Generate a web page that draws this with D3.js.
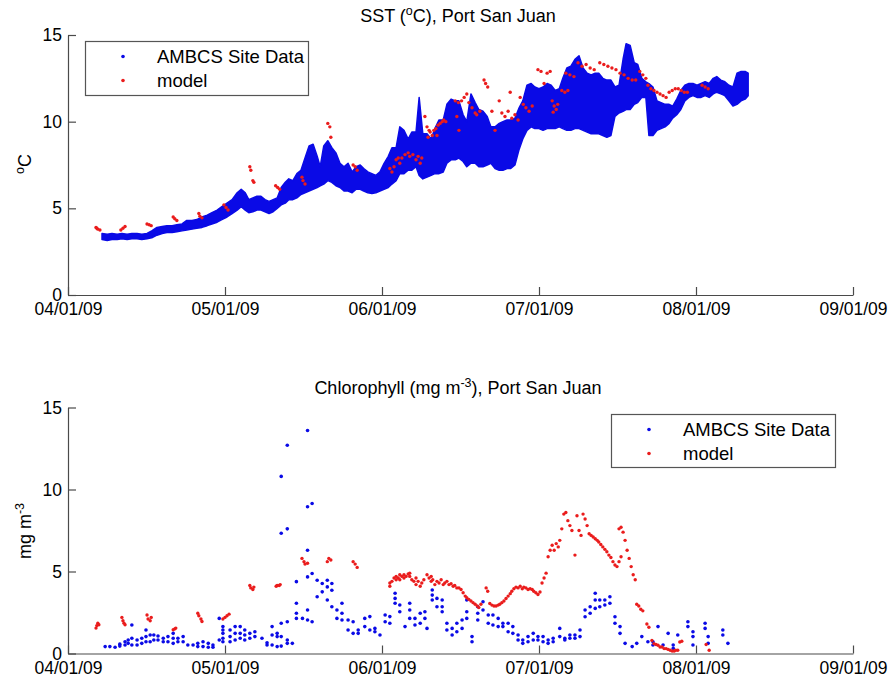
<!DOCTYPE html>
<html>
<head>
<meta charset="utf-8">
<script src="https://cdn.jsdelivr.net/npm/d3@7"></script>
<style>
  body { margin: 0; background: #fff; }
  svg text { font-family: "Liberation Sans", Arial, Helvetica, sans-serif; fill: #000; }
</style>
</head>
<body>
<svg id="fig" width="888" height="681"></svg>
<script>
// ---- axis ticks ----
const monthTicks = ["04/01/09", "05/01/09", "06/01/09", "07/01/09", "08/01/09", "09/01/09"];
const yTicks = [0, 5, 10, 15];
const seriesNames = ["AMBCS Site Data", "model"];

// ---- SST, site data: envelope of the dense record (days since 04/01/09, degC) ----
const sstObsDay = [
  6.5, 7.5, 8.4, 9.4, 10.3, 11.3, 12.2, 13.2, 14.1, 15.1,
  16.0, 17.0, 18.0, 18.9, 19.9, 20.8, 21.8, 22.7, 23.7, 24.6,
  25.6, 26.6, 27.5, 28.5, 29.4, 30.4, 31.4, 32.4, 33.2, 34.0,
  34.7, 35.5, 36.3, 37.1, 37.9, 38.7, 39.5, 40.3, 41.1, 41.9,
  42.6, 43.4, 44.2, 45.0, 45.8, 46.6, 47.4, 48.2, 48.8, 49.5,
  50.3, 51.1, 51.9, 52.7, 53.5, 54.3, 55.1, 55.9, 56.7, 57.4,
  58.2, 59.0, 59.8, 60.6, 61.4, 62.2, 62.9, 63.7, 64.4, 65.2,
  66.0, 66.7, 67.5, 68.1, 68.8, 69.6, 70.4, 71.1, 71.9, 72.7,
  73.4, 74.2, 75.0, 75.7, 76.5, 77.2, 78.0, 78.8, 79.5, 80.3,
  81.1, 81.8, 82.6, 83.4, 84.1, 84.9, 85.6, 86.4, 87.2, 87.9,
  88.7, 89.5, 90.2, 91.0, 91.8, 92.6, 93.4, 94.2, 95.0, 95.7,
  96.5, 97.3, 98.1, 98.9, 99.7, 100.5, 101.3, 102.1, 102.8, 103.6,
  104.4, 105.2, 106.0, 106.8, 107.6, 108.2, 109.0, 109.8, 110.5, 111.3,
  112.1, 112.7, 113.5, 114.3, 115.1, 115.9, 116.7, 117.4, 118.2, 119.0,
  119.8, 120.6, 121.4, 122.2, 123.0, 123.8, 124.6, 125.4, 126.1, 126.9,
  127.7, 128.5, 129.3, 130.1, 130.9, 131.7, 132.3
];
const sstObsHi = [
  3.55, 3.5, 3.55, 3.5, 3.55, 3.5, 3.55, 3.55, 3.5, 3.55,
  3.7, 3.9, 3.95, 4.0, 4.0, 4.05, 4.1, 4.3, 4.3, 4.35,
  4.5, 4.6, 4.75, 4.9, 5.1, 5.3, 5.5, 5.9, 6.1, 5.9,
  5.5, 5.6, 5.7, 5.7, 5.5, 5.4, 5.5, 5.6, 6.2, 6.5,
  6.7, 6.6, 7.0, 7.2, 7.9, 8.6, 8.7, 8.0, 7.4, 8.6,
  8.9, 8.5, 8.2, 7.6, 7.4, 7.6, 7.1, 7.4, 7.5, 7.3,
  7.1, 7.0, 6.9, 7.1, 7.6, 8.0, 8.5, 8.5, 9.7, 9.5,
  9.0, 9.4, 9.4, 11.4, 9.3, 9.3, 9.0, 9.6, 10.1, 10.1,
  11.0, 11.3, 11.2, 11.2, 10.4, 10.0, 11.6, 11.1, 10.7, 10.6,
  10.3, 9.7, 9.7, 9.9, 10.0, 10.1, 10.1, 10.2, 10.8, 11.2,
  12.1, 12.2, 12.0, 11.9, 12.0, 12.2, 12.1, 11.8, 11.9, 12.5,
  13.1, 13.2, 13.6, 13.8, 13.1, 12.8, 12.7, 12.8, 12.8, 12.5,
  12.4, 12.4, 12.0, 12.1, 13.6, 14.5, 14.4, 13.4, 13.3, 12.5,
  12.3, 12.2, 12.0, 11.2, 11.1, 11.0, 11.0, 10.9, 11.3, 11.8,
  12.1, 12.2, 12.2, 12.1, 12.2, 12.3, 12.2, 12.5, 12.6, 12.4,
  12.3, 12.1, 12.0, 12.8, 12.9, 12.9, 12.8
];
const sstObsLo = [
  3.2, 3.15, 3.2, 3.2, 3.25, 3.2, 3.25, 3.25, 3.2, 3.25,
  3.3, 3.45, 3.55, 3.6, 3.6, 3.65, 3.7, 3.75, 3.8, 3.85,
  3.9, 4.0, 4.1, 4.2, 4.35, 4.5, 4.7, 4.9, 5.1, 4.9,
  4.75, 4.8, 4.9, 4.9, 4.8, 4.7, 4.8, 5.0, 5.2, 5.3,
  5.5, 5.5, 5.6, 5.8, 5.9, 6.0, 6.1, 6.2, 6.3, 6.4,
  6.6, 6.5, 6.3, 6.2, 6.0, 6.0, 5.9, 6.1, 6.1, 6.0,
  5.9, 5.85, 5.9, 6.0, 6.1, 6.2, 6.4, 6.6, 7.0, 7.0,
  7.2, 7.2, 7.4, 6.9, 6.7, 6.8, 6.9, 7.0, 7.0, 7.1,
  7.6, 7.8, 7.8, 7.9, 7.7, 7.4, 7.6, 7.6, 7.4, 7.4,
  7.5, 7.6, 7.3, 7.2, 7.2, 7.3, 7.3, 7.5, 8.4, 9.0,
  9.5, 9.7, 9.6, 9.6, 9.5, 9.6, 9.6, 9.6, 9.7, 9.6,
  9.5, 9.5, 9.6, 9.6, 9.5, 9.4, 9.3, 9.3, 9.3, 9.2,
  9.1, 9.2, 10.3, 10.5, 10.6, 10.7, 10.7, 11.0, 11.1, 11.4,
  11.4, 9.2, 9.2, 9.5, 9.6, 9.7, 9.9, 10.2, 10.4, 10.7,
  11.2, 11.4, 11.5, 11.4, 11.4, 11.5, 11.4, 11.6, 11.7, 11.6,
  11.5, 11.2, 10.9, 11.0, 11.2, 11.3, 11.5
];

// ---- SST, model ----
const sstModDay = [
  5.35, 5.5, 5.7, 6.1, 10.1, 10.5, 10.9, 15.1, 15.5, 15.9,
  20.1, 20.4, 20.8, 25.0, 25.2, 25.6, 29.8, 30.2, 30.6,
  34.9, 35.1, 35.5, 35.7, 40.0, 40.4, 40.8, 45.2, 45.4, 45.8,
  50.3, 50.7, 50.9, 55.3, 55.7, 56.1,
  62.5, 62.9, 63.3, 63.7, 64.1, 64.4, 64.8, 65.4, 66.0, 66.3, 66.9, 67.5, 67.9, 68.3, 68.6,
  69.2, 69.6, 69.8, 70.0, 70.2, 70.6, 70.9, 71.3, 71.5, 71.7, 72.1, 72.5, 72.8, 73.2,
  75.0, 75.3, 75.6, 75.7, 76.2, 76.7, 77.2, 77.6, 78.2, 78.8, 79.1, 79.7,
  80.5, 80.8, 81.2,
  82.0, 82.6, 83.4, 83.9, 84.5, 85.1, 85.5, 85.8, 86.4, 87.0, 87.4, 88.0, 88.5, 89.1, 89.7,
  90.8, 91.4, 92.0, 92.6, 93.2, 93.6, 93.8, 94.0, 94.4, 94.7,
  95.5, 96.1, 96.7, 96.3, 97.1, 97.9,
  98.7, 99.5, 100.3, 101.1, 101.9,
  103.0, 103.8, 104.6, 105.4, 106.2, 107.0, 107.8, 108.6, 109.4, 110.1,
  110.9, 111.5, 112.1,
  112.5, 113.1, 113.7, 114.3, 114.9, 115.5, 116.1,
  116.7, 117.3, 117.9, 118.5, 119.1, 119.7, 120.3,
  123.2, 123.8, 124.4
];
const sstModVal = [
  3.9, 3.85, 3.8, 3.75, 3.75, 3.85, 3.95, 4.1, 4.05, 4.0,
  4.5, 4.4, 4.3, 4.7, 4.55, 4.45, 5.2, 5.05, 4.9,
  7.4, 7.2, 6.6, 6.5, 6.3, 6.2, 6.1, 6.8, 6.6, 6.4,
  9.9, 9.7, 9.1, 7.5, 7.4, 7.2,
  7.3, 7.1, 7.4, 7.8, 7.9, 7.6, 7.9, 8.1, 8.2, 8.0, 8.1, 7.8, 8.0, 7.6, 7.9,
  10.3, 9.7, 9.1, 9.5, 9.4, 9.2, 9.5, 9.6, 9.2, 9.8, 9.9, 10.0, 10.1, 10.0,
  11.2, 10.3, 11.1, 9.5, 11.2, 11.4, 11.6, 11.1, 10.8, 10.5, 10.4, 10.6,
  12.4, 12.2, 12.0,
  10.6, 9.5, 11.2, 10.5, 10.3, 10.6, 11.7, 10.2, 10.4, 10.1, 11.4, 11.0, 10.8, 10.6, 10.9,
  13.0, 12.9, 12.2, 12.8, 12.9, 11.2, 10.55, 10.9, 10.7, 11.0,
  11.8, 11.7, 11.8, 12.8, 12.7, 12.6,
  13.4, 13.2, 13.3, 13.1, 13.0,
  13.4, 13.3, 13.2, 13.1, 13.0, 12.8, 12.7, 12.5, 12.4, 12.4,
  12.9, 12.7, 12.5,
  12.1, 11.9, 11.8, 11.7, 11.6, 11.5, 11.4,
  11.7, 11.8, 11.9, 11.9, 11.8, 11.7, 11.7,
  12.1, 12.0, 11.9
];

// ---- Chlorophyll, site data (one sampling time per entry, several samples each) ----
const chlObsDay = [
  7.1, 8.0, 9.0, 9.9, 10.9, 11.5, 12.2, 13.2, 14.1, 14.9,
  15.7, 16.4, 17.2, 18.2, 19.1, 20.1, 21.0, 22.0, 22.9, 23.9,
  24.8, 25.8, 26.8, 27.7, 28.9, 29.6, 31.0, 32.0, 33.0, 33.9,
  34.9, 35.9, 37.3, 38.3, 39.3, 40.3, 41.1, 42.3, 43.3, 44.1,
  45.3, 46.3, 47.2, 48.2, 49.2, 50.2, 51.1, 52.1, 53.1, 54.3,
  55.3, 56.3, 57.6, 58.6, 59.6, 60.6, 61.6, 62.5, 63.5, 64.4,
  65.4, 66.3, 67.3, 68.3, 69.2, 69.6, 70.6, 71.5, 72.5, 73.4,
  74.4, 75.3, 76.3, 77.2, 78.2, 79.3, 80.3, 81.3, 82.2, 83.2,
  84.1, 85.1, 86.0, 87.0, 87.9, 88.9, 89.9, 90.8, 91.8, 92.8,
  93.8, 95.1, 96.1, 97.1, 98.1, 99.1, 100.1, 101.1, 102.1, 103.0,
  104.0, 105.0, 106.0, 107.0, 108.0, 109.4, 110.3, 111.3, 112.5, 113.5,
  114.5, 115.5, 116.5, 117.5, 118.4, 120.4, 121.4, 123.8, 124.4, 127.3,
  128.3
];
const chlObsVal = [
  [0.42], [0.42], [0.38], [0.45, 0.57], [0.52, 0.72], [0.62, 0.82], [0.52, 0.93, 1.74], [0.52, 0.82], [0.62, 0.93], [0.72, 1.03, 1.43],
  [0.72, 1.13], [0.82, 1.13], [0.82, 1.07], [0.72, 0.93], [0.72, 1.03], [0.62, 0.93, 1.23], [0.72, 0.93], [0.72, 1.03], [0.52], [0.52],
  [0.42, 0.62], [0.42, 0.72], [0.38, 0.62], [0.38, 0.52], [0.82, 2.14], [0.72, 0.93, 1.23, 1.43, 1.64], [0.72, 1.03, 1.43], [0.82, 1.23, 1.64], [0.93, 1.23, 1.64], [0.82, 1.13, 1.43],
  [0.93, 1.23], [1.03, 1.33], [0.93], [0.52, 0.66], [0.52, 1.13, 1.64], [0.42, 1.03, 1.23], [0.45, 1.03, 1.84, 7.33, 10.8], [0.62, 0.82, 1.94, 7.6, 12.7], [0.62], [2.14, 2.45, 3.06, 4.38],
  [2.14], [2.04, 2.65, 4.67, 6.3, 8.95, 13.6], [1.94, 4.88, 9.15], [3.46, 4.47], [3.76, 4.27], [3.26, 4.06, 4.47], [2.85, 3.86, 4.27], [2.14, 2.65], [2.04, 2.45, 3.06], [1.43, 2.04],
  [1.23, 1.94], [1.23, 1.43], [1.64, 2.14], [1.43, 2.25], [1.33, 1.53], [1.13], [1.94, 2.35], [1.84, 2.25], [3.06, 3.36, 3.67], [2.55, 2.96],
  [1.64], [2.14, 2.65, 3.06], [1.74, 2.14], [1.84, 2.45], [2.14, 2.55], [1.53], [3.26, 3.56, 3.87], [2.85, 3.36], [2.55, 2.85, 3.26], [1.43, 1.84],
  [1.13, 1.53], [1.33, 1.84], [1.53, 2.04], [2.14, 2.55, 3.26], [0.72, 1.03], [2.04, 2.45, 2.85], [2.65, 3.16], [1.84, 2.35], [1.74, 2.35], [1.64, 2.14],
  [1.64, 1.84], [1.33, 1.84], [1.23, 1.64], [0.82, 1.13], [0.62, 0.82], [0.72, 1.03], [0.82, 1.23], [0.82, 1.03], [0.72, 1.03], [0.62, 0.82],
  [0.72, 0.93], [1.03, 1.53], [0.82, 0.93], [0.93, 1.13], [0.93, 1.13], [1.03, 1.43], [2.24, 2.65], [2.45, 2.85], [2.75, 3.26, 3.67], [2.85, 3.26],
  [2.96, 3.26], [3.06, 3.46], [1.84, 2.24], [1.23, 1.64], [0.62], [0.42], [0.62], [1.03], [0.72], [0.52, 0.72],
  [1.64], [0.52], [1.23], [0.31, 0.52], [1.13], [1.64, 1.94], [0.52, 1.03, 1.33], [1.53, 1.84], [0.62, 1.03], [1.13, 1.43],
  [0.62]
];

// ---- Chlorophyll, model ----
const chlModDay = [
  5.35, 5.5, 5.7, 5.9, 10.3, 10.5, 10.7, 10.9, 15.1, 15.3, 15.7, 15.9,
  20.1, 20.4, 20.6, 24.8, 25.0, 25.4, 25.6, 29.6, 30.0, 30.4, 30.8,
  34.9, 35.1, 35.5, 35.7, 40.1, 40.3, 40.7, 40.9, 45.2, 45.6, 45.8, 46.3,
  50.2, 50.5, 50.9, 55.3, 55.7, 56.1,
  62.5, 62.5, 62.9, 63.3, 63.7, 63.7, 64.1, 64.4, 64.4, 64.8, 65.2, 65.2, 65.6, 66.0, 66.3, 66.3,
  66.7, 67.1, 67.5, 67.5, 67.9, 68.3, 68.6, 69.0, 69.6, 70.0, 70.4, 70.4, 70.7, 71.1, 71.5,
  71.9, 72.3, 72.7, 73.0, 73.4, 73.8, 74.2, 74.6, 74.9, 75.3, 75.7, 76.1, 76.5, 76.9,
  77.2, 77.6, 78.0, 78.4, 78.8, 79.2, 79.5, 79.9, 80.9, 81.2, 81.6, 82.0, 82.4, 82.8,
  83.2, 83.5, 83.9, 84.3, 84.7, 85.1, 85.5, 85.8, 86.2, 86.6, 87.0, 87.4, 87.8, 88.1,
  88.5, 88.9, 89.3, 89.7, 90.0, 90.4, 90.8, 91.2, 91.6, 92.0, 92.4, 92.8, 93.2, 93.6,
  94.0, 94.4, 94.8, 95.1, 95.5, 95.9, 96.3, 96.7, 97.1, 97.5, 98.1, 98.5, 98.9, 99.3,
  99.7, 100.1, 100.5, 100.9, 101.3, 101.7, 102.1, 102.5, 102.8, 103.2, 103.6, 104.0,
  104.4, 104.8, 105.2, 105.6, 106.0, 106.4, 106.8, 106.8, 107.2, 107.2, 107.6, 108.0,
  108.4, 108.8, 109.2, 109.6, 110.0, 110.3, 110.7, 111.1, 111.5, 112.3, 112.7,
  113.3, 113.7, 114.1, 114.5, 114.9, 115.3, 115.7, 116.1, 116.5, 116.9, 117.3, 117.7,
  118.0, 118.4, 118.8, 119.2, 124.0, 124.6
];
const chlModVal = [
  1.55, 1.7, 1.85, 1.75, 2.2, 2.0, 1.85, 1.75, 2.35, 2.1, 2.0, 2.2,
  1.45, 1.5, 1.55, 2.45, 2.3, 2.1, 1.95, 2.1, 2.2, 2.3, 2.4,
  4.15, 4.0, 3.9, 4.05, 4.1, 4.15, 4.15, 4.2, 5.8, 5.6, 5.45, 5.5,
  5.6, 5.8, 5.7, 5.6, 5.45, 5.25,
  4.1, 4.3, 4.4, 4.6, 4.5, 4.7, 4.6, 4.8, 4.5, 4.7, 4.8, 4.6, 4.7, 4.85, 4.7, 4.9,
  4.5, 4.4, 4.2, 4.6, 4.4, 4.1, 4.3, 4.5, 4.8, 4.6, 4.7, 4.4, 4.5, 4.2, 4.4,
  4.3, 4.5, 4.2, 4.3, 4.4, 4.2, 4.25, 4.1, 4.15, 4.0, 4.0, 3.9, 3.7, 3.5,
  3.4, 3.3, 3.2, 3.1, 3.0, 2.9, 2.8, 3.0, 4.0, 3.8, 3.05, 2.95, 2.9, 2.9,
  2.95, 3.0, 3.1, 3.2, 3.35, 3.5, 3.65, 3.8, 3.95, 4.05, 4.0, 4.1, 3.95, 4.05,
  4.0, 3.9, 3.95, 3.9, 3.8, 3.7, 3.6, 3.75, 4.3, 4.6, 4.9, 5.9, 6.3, 6.6,
  6.3, 6.7, 6.5, 6.9, 7.6, 8.5, 8.6, 8.1, 7.8, 7.5, 6.0, 8.4, 7.5, 7.2,
  8.5, 8.2, 7.8, 7.3, 7.2, 7.1, 7.0, 6.9, 6.8, 6.65, 6.5, 6.35,
  6.2, 6.0, 5.85, 5.6, 5.4, 5.3, 7.6, 5.6, 7.7, 5.9, 7.4, 6.9,
  6.3, 5.8, 5.3, 4.8, 4.5, 3.0, 2.9, 2.7, 2.6, 1.8, 1.6,
  0.8, 0.6, 0.55, 0.5, 0.4, 0.4, 0.3, 0.3, 0.25, 0.2, 0.15, 0.15,
  0.2, 0.2, 0.7, 0.75, 0.55, 0.2
];

// ---- drawing ----
const BLUE = "#0a0ae6";
const RED = "#ea1c1c";
const AXIS = "#4a4a4a";
const FONT = '"Liberation Sans", Arial, Helvetica, sans-serif';

const t0 = Date.UTC(2009, 3, 1);
const toDate = d => new Date(t0 + d * 864e5);
const tickDates = monthTicks.map(d3.utcParse("%m/%d/%y"));

const svg = d3.select("#fig");
svg.append("rect").attr("width", 888).attr("height", 681).attr("fill", "#fff");

// months are laid out at equal widths along the time axis
const x = d3.scaleUtc()
  .domain(tickDates)
  .range(tickDates.map((_, i) => 68 + i * 157));

function drawAxes(y, yBottom) {
  const gx = svg.append("g")
    .attr("transform", `translate(0,${yBottom})`)
    .call(d3.axisBottom(x)
      .tickValues(tickDates)
      .tickFormat((d, i) => monthTicks[i])
      .tickSizeInner(-8).tickSizeOuter(0).tickPadding(8));
  const gy = svg.append("g")
    .attr("transform", "translate(68,0)")
    .call(d3.axisLeft(y)
      .tickValues(yTicks)
      .tickSizeInner(-8).tickSizeOuter(0).tickPadding(6));
  [gx, gy].forEach(g => {
    g.attr("font-family", FONT).attr("font-size", 17.5);
    g.select(".domain").attr("stroke", AXIS).attr("stroke-width", 1.2);
    g.selectAll(".tick line").attr("stroke", AXIS).attr("stroke-width", 1.2);
    g.selectAll(".tick text").attr("fill", "#000");
  });
}

function title(xc, yb, pre, sup, post) {
  const t = svg.append("text").attr("x", xc).attr("y", yb)
    .attr("text-anchor", "middle").attr("font-size", 18);
  t.append("tspan").text(pre);
  t.append("tspan").attr("dy", -7).attr("font-size", 12.5).text(sup);
  t.append("tspan").attr("dy", 7).text(post);
}

function yLabel(xb, yc, pre, sup, post) {
  const t = svg.append("text")
    .attr("transform", `translate(${xb},${yc}) rotate(-90)`)
    .attr("text-anchor", "middle").attr("font-size", 18);
  t.append("tspan").text(pre);
  t.append("tspan").attr("dy", -7).attr("font-size", 12.5).text(sup);
  t.append("tspan").attr("dy", 7).text(post);
}

function legend(x0, y0, w, h) {
  const g = svg.append("g");
  g.append("rect").attr("x", x0).attr("y", y0).attr("width", w).attr("height", h)
    .attr("fill", "#fff").attr("stroke", "#555").attr("stroke-width", 1.2);
  [BLUE, RED].forEach((c, i) => {
    const cy = y0 + 15 + i * 24;
    g.append("circle").attr("cx", x0 + 37.5).attr("cy", cy).attr("r", 1.8).attr("fill", c);
    g.append("text").attr("x", x0 + 71.5).attr("y", cy + 6.5)
      .attr("font-size", 18.5).text(seriesNames[i]);
  });
}

// ---------- top panel: SST ----------
const yT = d3.scaleLinear().domain([0, 15]).range([295, 35]);

const sstObs = sstObsDay.map((d, i) => ({ t: toDate(d), lo: sstObsLo[i], hi: sstObsHi[i] }));
svg.append("path")
  .datum(sstObs)
  .attr("d", d3.area().x(d => x(d.t)).y0(d => yT(d.lo)).y1(d => yT(d.hi)))
  .attr("fill", BLUE).attr("stroke", BLUE).attr("stroke-width", 1.5)
  .attr("stroke-linejoin", "round");

svg.append("g").selectAll("circle")
  .data(sstModDay.map((d, i) => ({ t: toDate(d), v: sstModVal[i] })))
  .join("circle")
  .attr("cx", d => x(d.t)).attr("cy", d => yT(d.v)).attr("r", 1.7).attr("fill", RED);

drawAxes(yT, 295);
title(458, 22, "SST (", "o", "C), Port San Juan");
yLabel(31, 164, "", "o", "C");
legend(85.5, 41.5, 223, 54);

// ---------- bottom panel: chlorophyll ----------
const yB = d3.scaleLinear().domain([0, 15]).range([653.5, 407.5]);

const chlObs = chlObsDay.flatMap((d, i) => chlObsVal[i].map(v => ({ t: toDate(d), v })));
svg.append("g").selectAll("circle")
  .data(chlObs)
  .join("circle")
  .attr("cx", d => x(d.t)).attr("cy", d => yB(d.v)).attr("r", 1.8).attr("fill", BLUE);

svg.append("g").selectAll("circle")
  .data(chlModDay.map((d, i) => ({ t: toDate(d), v: chlModVal[i] })))
  .join("circle")
  .attr("cx", d => x(d.t)).attr("cy", d => yB(d.v)).attr("r", 1.7).attr("fill", RED);

drawAxes(yB, 653.5);
title(458, 394, "Chlorophyll (mg m", "-3", "), Port San Juan");
yLabel(31, 531, "mg m", "-3", "");
legend(611.5, 414.5, 224, 53);
</script>
</body>
</html>
